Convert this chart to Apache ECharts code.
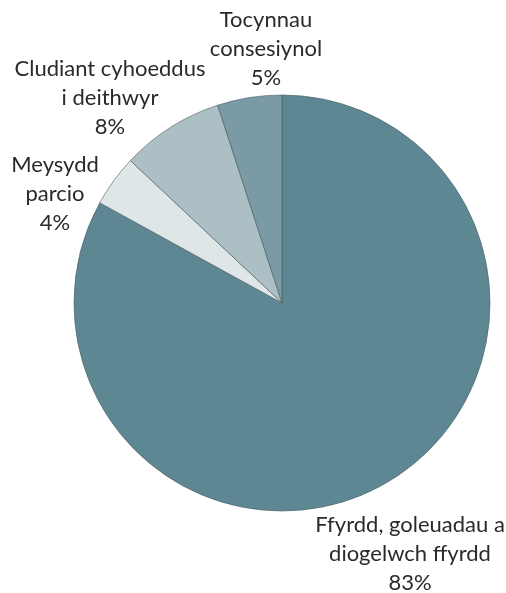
<!DOCTYPE html>
<html><head><meta charset="utf-8">
<script src="https://cdn.jsdelivr.net/npm/echarts@6/dist/echarts.min.js"></script>
<style>html,body{margin:0;padding:0;background:#fff}#c{width:506px;height:593px}</style>
</head><body><div id="c"></div>
<script>
var categories = ['Ffyrdd, goleuadau a\ndiogelwch ffyrdd', 'Meysydd\nparcio', 'Cludiant cyhoeddus\ni deithwyr', 'Tocynnau\nconsesiynol'];
var values = [83, 4, 8, 5];
var colors = ['#5e8794', '#dfe6e8', '#abbfc5', '#7a9aa5'];
var labelCenters = [[410, 554], [55, 194], [110, 98], [266, 49]];

var chart = echarts.init(document.getElementById('c'), null, {renderer: 'canvas'});
chart.setOption({
  animation: false,
  series: [{
    type: 'pie',
    center: [282, 303],
    radius: [0, 208],
    startAngle: 90,
    clockwise: true,
    data: categories.map(function (c, i) { return {name: c, value: values[i], itemStyle: {color: colors[i]}}; }),
    itemStyle: {borderColor: '#4a5a60', borderWidth: 0.6},
    label: {
      show: true,
      position: 'outside',
      formatter: '{b}\n{c}%',
      fontFamily: 'Lato',
      fontSize: 22,
      lineHeight: 29,
      color: '#2a2a2a',
      align: 'center',
      overflow: 'none',
      width: 300
    },
    labelLine: {show: false},
    labelLayout: function (p) {
      var c = labelCenters[p.dataIndex];
      return {x: c[0], y: c[1], align: 'center', verticalAlign: 'middle'};
    }
  }]
});
</script></body></html>
